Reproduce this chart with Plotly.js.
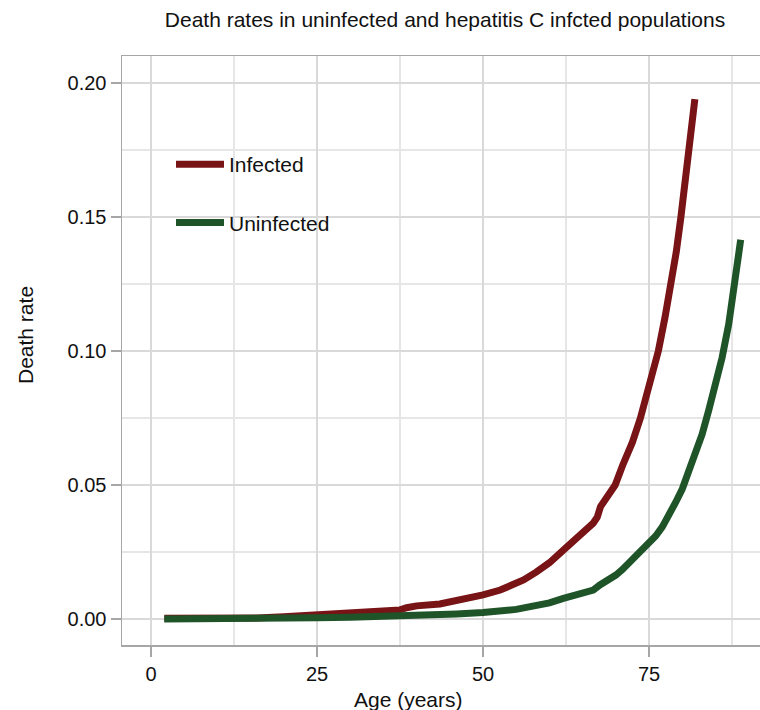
<!DOCTYPE html>
<html>
<head>
<meta charset="utf-8">
<script src="https://cdn.plot.ly/plotly-3.0.1.min.js"></script>
<style>html,body{margin:0;padding:0;background:#fff;}#chart{width:760px;height:710px;}</style>
</head>
<body>
<div id="chart"></div>
<script>
const infectedAge = [2, 5, 8, 12.4, 16, 20, 25, 30, 35, 37.5, 38.5, 40, 43.5, 46.5, 48, 50, 52.6, 54.5, 56.1, 58, 60, 62.1, 63, 64.6, 66.6, 67.2, 67.7, 68.7, 69.9, 71, 72.5, 73.7, 75, 76.4, 77.4, 78.4, 79.1, 79.8, 80.4, 81, 81.5, 81.9];
const infectedRate = [0.0003, 0.0002, 0.0001, 0.0001, 0.0004, 0.0008, 0.0015, 0.002, 0.0027, 0.0034, 0.0042, 0.0049, 0.0056, 0.0071, 0.0078, 0.009, 0.0108, 0.0125, 0.0146, 0.0175, 0.021, 0.0257, 0.028, 0.0313, 0.0358, 0.038, 0.042, 0.0455, 0.05, 0.0572, 0.066, 0.075, 0.087, 0.100, 0.1125, 0.125, 0.137, 0.150, 0.1625, 0.175, 0.185, 0.194];
const uninfectedAge = [2, 10, 20, 25, 30, 37.5, 42, 46, 50, 52.6, 55, 57.1, 60, 62.1, 64, 66.6, 67.6, 68.5, 70, 71, 72, 73, 74, 75, 76, 77, 78, 79, 80, 81, 82, 83, 84, 85, 86, 87, 88, 88.8];
const uninfectedRate = [0.0, 0.0, 0.0002, 0.0005, 0.0007, 0.001, 0.0015, 0.0019, 0.0024, 0.0028, 0.0036, 0.0046, 0.006, 0.0077, 0.009, 0.0108, 0.0127, 0.014, 0.0164, 0.0185, 0.021, 0.0232, 0.026, 0.0282, 0.031, 0.0344, 0.0385, 0.0435, 0.0485, 0.055, 0.062, 0.069, 0.078, 0.0875, 0.0975, 0.110, 0.127, 0.1415];
const xTicks = [0, 25, 50, 75];
const xTickText = ['0', '25', '50', '75'];
const yTicks = [0, 0.05, 0.10, 0.15, 0.20];
const yTickText = ['0.00', '0.05', '0.10', '0.15', '0.20'];

const FONT = 'Liberation Sans, Arial, sans-serif';
const traces = [
  {x: infectedAge, y: infectedRate, name: 'Infected', type: 'scatter', mode: 'lines',
   line: {color: '#781316', width: 7}, legendgroup: 'a'},
  {x: uninfectedAge, y: uninfectedRate, name: 'Uninfected', type: 'scatter', mode: 'lines',
   line: {color: '#1f5429', width: 7}, legendgroup: 'b'}
];
const axisCommon = {
  showline: true, linecolor: '#a6a6a6', linewidth: 1.5,
  ticks: 'outside', ticklen: 10, tickcolor: '#a6a6a6', tickwidth: 1.5,
  showgrid: true, gridcolor: '#d9d9d9', gridwidth: 1.3,
  zeroline: false, tickfont: {family: FONT, size: 20, color: '#111'}
};
const layout = {
  width: 760, height: 710,
  margin: {l: 122, r: 0, t: 56, b: 65},
  paper_bgcolor: '#fff', plot_bgcolor: '#fff',
  font: {family: FONT, color: '#111'},
  title: {text: 'Death rates in uninfected and hepatitis C infcted populations',
          font: {family: FONT, size: 21, color: '#111'},
          x: 445/760, xanchor: 'center', y: 1 - 20/710, yanchor: 'middle'},
  xaxis: Object.assign({}, axisCommon, {
    range: [-4.37, 91.71], tickvals: xTicks, ticktext: xTickText, mirror: true,
    ticklabelstandoff: 0,
    minor: {dtick: 12.5, tick0: 0, showgrid: true, gridcolor: '#e6e6e6', gridwidth: 1.2, ticks: ''}
  }),
  yaxis: Object.assign({}, axisCommon, {
    range: [-0.0097, 0.2101], tickvals: yTicks, ticktext: yTickText,
    ticklabelstandoff: 0,
    minor: {dtick: 0.025, tick0: 0, showgrid: true, gridcolor: '#e6e6e6', gridwidth: 1.2, ticks: ''}
  }),
  showlegend: true,
  legend: {x: (171-122)/638, xanchor: 'left', y: (645-144)/589, yanchor: 'top',
           bgcolor: 'rgba(0,0,0,0)', font: {family: FONT, size: 21, color: '#111'},
           traceorder: 'grouped', tracegroupgap: 28, itemwidth: 48},
  shapes: [{type: 'rect', xref: 'paper', yref: 'paper', layer: 'below',
            x0: (152-122)/638, x1: (350-122)/638, y0: (645-270)/589, y1: (645-77)/589,
            fillcolor: '#fff', line: {width: 0}}],
  annotations: [
    {text: 'Age (years)', xref: 'paper', yref: 'paper', x: (408-122)/638, y: (645-699)/589,
     xanchor: 'center', yanchor: 'middle', showarrow: false, font: {family: FONT, size: 21, color: '#111'}},
    {text: 'Death rate', xref: 'paper', yref: 'paper', x: (25-122)/638, y: (645-335)/589,
     xanchor: 'center', yanchor: 'middle', textangle: -90, showarrow: false, font: {family: FONT, size: 21, color: '#111'}}
  ]
};
Plotly.newPlot('chart', traces, layout, {displayModeBar: false, staticPlot: true});
</script>
</body>
</html>
